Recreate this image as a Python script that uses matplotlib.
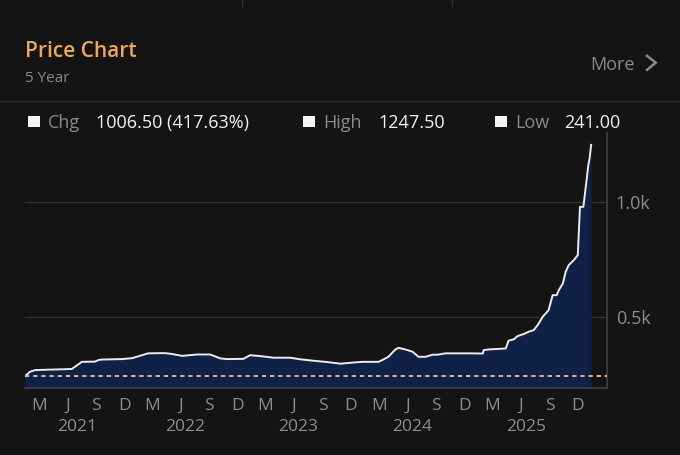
import matplotlib
matplotlib.use("Agg")
import matplotlib.pyplot as plt
import matplotlib.dates as mdates
from matplotlib.ticker import FuncFormatter, MultipleLocator
from matplotlib.patches import Rectangle
from matplotlib.lines import Line2D
import pandas as pd

plt.rcParams['font.family'] = ['Open Sans', 'DejaVu Sans']

# ---- data ----
dates = [
    "2021-01-16", "2021-02-01", "2021-02-17", "2021-03-31", "2021-05-25", "2021-06-16",
    "2021-07-18", "2021-08-29", "2021-09-10", "2021-09-21", "2021-11-25", "2021-12-27",
    "2022-01-28", "2022-02-16", "2022-04-12", "2022-05-05", "2022-06-06", "2022-07-24",
    "2022-09-04", "2022-10-07", "2022-10-29", "2022-12-20", "2023-01-11", "2023-02-13",
    "2023-03-27", "2023-05-20", "2023-06-22", "2023-08-02", "2023-09-17", "2023-10-29",
    "2023-11-30", "2024-01-08", "2024-02-28", "2024-03-12", "2024-03-31", "2024-04-23",
    "2024-05-03", "2024-06-01", "2024-06-17", "2024-07-06", "2024-07-29", "2024-08-20",
    "2024-09-05", "2024-10-01", "2024-12-21", "2025-01-29", "2025-02-01", "2025-02-17",
    "2025-04-13", "2025-04-22", "2025-05-09", "2025-05-21", "2025-06-10", "2025-06-26",
    "2025-07-12", "2025-07-25", "2025-08-10", "2025-08-20", "2025-08-29", "2025-09-11",
    "2025-09-24", "2025-10-01", "2025-10-14", "2025-10-23", "2025-11-02", "2025-11-18",
    "2025-12-01", "2025-12-08", "2025-12-19", "2026-01-04", "2026-01-08", "2026-01-13",
]
prices = [
    241, 261, 268, 270, 272, 273,
    304, 305, 312, 314, 316, 320,
    333, 341, 342, 338, 330, 336,
    336, 319, 316, 317, 333, 329,
    322, 322, 315, 309, 303, 296,
    300, 304, 304, 312, 326, 358,
    365, 355, 348, 326, 326, 335,
    335, 341, 341, 340, 355, 358,
    362, 396, 402, 416, 425, 435,
    442, 464, 500, 515, 529, 594,
    594, 616, 645, 696, 725, 746,
    768, 978, 978, 1160, 1189, 1247.5,
]
month_tick_dates = pd.date_range("2021-03-01", "2025-12-01", freq="3MS")
year_labels = ["2021", "2022", "2023", "2024", "2025"]
year_label_dates = ["2021-07-03", "2022-06-17", "2023-06-15", "2024-06-15", "2025-06-19"]
x_range = ["2021-01-16", "2026-03-06"]
y_range = [189, 1299]

title = "Price Chart"
subtitle = "5 Year"
more_label = "More"

# ---- derived stats ----
first, last = prices[0], prices[-1]
chg = last - first
pct = chg / first * 100
high = max(prices)
low = min(prices)

BG = "#141414"
W, H = 680, 455

fig = plt.figure(figsize=(W / 100, H / 100), dpi=100, facecolor=BG)


def fx(x):
    return x / W


def fy(y):
    return 1 - y / H


# axes placement
L, R, T, B = 25, 607.3, 133, 388.3
ax = fig.add_axes([fx(L), fy(B), (R - L) / W, (B - T) / H], facecolor=BG)

d = pd.to_datetime(dates)
ax.fill_between(d, prices, y_range[0], color="#0f2147", linewidth=0, zorder=1)
ax.plot(d, prices, color="#ececec", linewidth=1.4, zorder=3, solid_joinstyle="round")
ax.axhline(low, color="#e8b48c", linewidth=1.4, linestyle=(0, (2.2, 2.0)), zorder=4)

ax.set_xlim(pd.to_datetime(x_range[0]), pd.to_datetime(x_range[1]))
ax.set_ylim(*y_range)

# grid
ax.yaxis.set_major_locator(MultipleLocator(500))
ax.yaxis.grid(True, color="#343434", linewidth=0.9)
ax.set_axisbelow(True)
ax.yaxis.tick_right()
ax.yaxis.set_major_formatter(FuncFormatter(lambda v, p: f"{v/1000:.1f}k"))
ax.tick_params(axis="y", length=0, pad=6, labelsize=13, labelcolor="#8e8e8e")

# x ticks: month initials and year labels on a second line
ax.set_xticks(mdates.date2num(month_tick_dates),
              labels=[t.strftime("%b")[0] for t in month_tick_dates])
ax.set_xticks(mdates.date2num(pd.to_datetime(year_label_dates)), labels=year_labels, minor=True)
ax.tick_params(axis="x", which="major", length=0, pad=7, labelsize=12.5, labelcolor="#8e8e8e")
ax.tick_params(axis="x", which="minor", length=0, pad=22, labelsize=12.5, labelcolor="#8e8e8e")

for s in ["top", "left"]:
    ax.spines[s].set_visible(False)
for s in ["bottom", "right"]:
    ax.spines[s].set_color("#3e3e3e")
    ax.spines[s].set_linewidth(1.3)

# ---- header ----
fig.text(fx(25), fy(57.3), title, color="#f0a65c", fontsize=15, fontweight="semibold",
         va="baseline", ha="left")
fig.text(fx(25), fy(82.3), subtitle, color="#8a8a8a", fontsize=11, va="baseline", ha="left")
fig.text(fx(590), fy(70), more_label, color="#8a8a8a", fontsize=13, va="baseline", ha="left")
fig.add_artist(Line2D([fx(646), fx(655.7), fx(646)], [fy(55), fy(62.7), fy(70.7)],
                      transform=fig.transFigure, color="#8a8a8a", linewidth=1.8,
                      solid_joinstyle="miter", solid_capstyle="butt"))

# top tab separators and header separator
for xv in [241.5, 452]:
    fig.add_artist(Line2D([fx(xv), fx(xv)], [fy(0), fy(6)], transform=fig.transFigure,
                          color="#333333", linewidth=1))
fig.add_artist(Line2D([0, 1], [fy(101), fy(101)], transform=fig.transFigure,
                      color="#2a2a2a", linewidth=1))

# ---- legend row ----
sq = 11.5
legend_items = [
    (34, 48, "Chg", 96, f"{chg:.2f} ({pct:.2f}%)"),
    (309, 323, "High", 378, f"{high:.2f}"),
    (501, 515, "Low", 564.6, f"{low:.2f}"),
]
for sx, lx, lab, vx, val in legend_items:
    fig.add_artist(Rectangle((fx(sx - sq / 2), fy(121.5 + sq / 2)), sq / W, sq / H,
                             transform=fig.transFigure, facecolor="#f4f4f4", edgecolor="none"))
    fig.text(fx(lx), fy(128.3), lab, color="#8a8a8a", fontsize=13, va="baseline", ha="left")
    fig.text(fx(vx), fy(128.3), val, color="#f2f2f2", fontsize=13, va="baseline", ha="left")

fig.savefig("out.png", dpi=100, facecolor=BG)
